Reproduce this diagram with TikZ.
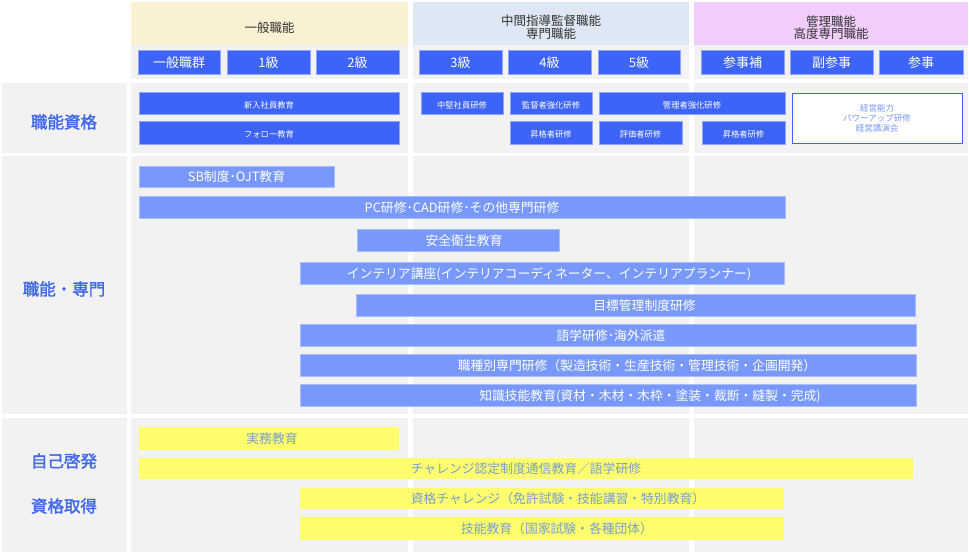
\documentclass[tikz,border=0pt]{standalone}
\usepackage{fontspec}
\setmainfont{Noto Sans CJK JP}
\newfontfamily\lblfont{Noto Sans CJK JP}[FakeBold=2]
\definecolor{cellgray}{HTML}{F2F2F2}
\definecolor{hdyellow}{HTML}{FAF0D2}
\definecolor{hdblue}{HTML}{DEE8F5}
\definecolor{hdpink}{HTML}{F0CDFA}
\definecolor{boxblue}{HTML}{3D63F7}
\definecolor{boxedge}{HTML}{8DA6FA}
\definecolor{barblue}{HTML}{7899FB}
\definecolor{baredge}{HTML}{A9BCFC}
\definecolor{ybarfill}{HTML}{FFFF6E}
\definecolor{ytext}{HTML}{7A9FCB}
\definecolor{lbltext}{HTML}{4169EB}
\definecolor{hdtext}{HTML}{333333}
\newcommand{\mybox}[7]{\node[#2, minimum width={#5pt-#3pt}, minimum height={#6pt-#4pt}, inner sep=0pt] (#1) at ({(#3+#5)/2},{(#4+#6)/2}) {#7};}
\newcommand{\offs}[1]{\hspace*{#1pt}}
\tikzset{
  vc/.style={text height=1.05em, text depth=0em},
  gbox/.style={vc, fill=boxblue, draw=boxedge, line width=0.6pt, text=white, font=\fontsize{13}{13}\selectfont},
  sbox/.style={vc, fill=boxblue, draw=boxedge, line width=0.6pt, text=white, font=\fontsize{8.3}{9}\selectfont},
  wbox/.style={fill=white, draw=boxblue, line width=0.9pt, text=barblue, align=center, font=\fontsize{8.5}{10}\selectfont},
  bar/.style={vc, fill=barblue, draw=baredge, line width=0.6pt, text=white, font=\fontsize{12.8}{13}\selectfont},
  ybar/.style={vc, fill=ybarfill, draw=none, text=ytext, font=\fontsize{12.8}{13}\selectfont},
  hdtxt/.style={text=hdtext, align=center, font=\fontsize{12.5}{12.5}\selectfont},
  lbl/.style={vc, text=lbltext, font=\fontsize{16.5}{17}\selectfont\lblfont}
}
\begin{document}
\begin{tikzpicture}[x=1pt, y=-1pt]
\useasboundingbox (0,0) rectangle (969,558);
\fill[white] (0,0) rectangle (969,558);
% header cells
\fill[hdyellow] (131,2) rectangle (408,45);
\fill[hdblue] (413,2) rectangle (689,45);
\fill[hdpink] (694,2) rectangle (968,45);
\fill[cellgray] (131,45) rectangle (408,79);
\fill[cellgray] (413,45) rectangle (689,79);
\fill[cellgray] (694,45) rectangle (968,79);
% row cells
\foreach \ya/\yb in {83/153, 156/414, 418/552} {
  \fill[cellgray] (2,\ya) rectangle (127,\yb);
  \fill[cellgray] (131,\ya) rectangle (408,\yb);
  \fill[cellgray] (413,\ya) rectangle (689,\yb);
  \fill[cellgray] (694,\ya) rectangle (968,\yb);
}
% header texts
\node[hdtxt] (h1) at (269.5,28) {一般職能};
\node[hdtxt] (h2) at (551,27.5) {中間指導監督職能\\専門職能};
\node[hdtxt] (h3) at (831,27.5) {管理職能\\高度専門職能};
% grade boxes
\mybox{g1}{gbox}{138}{50}{220}{74}{一般職群}
\mybox{g2}{gbox}{227}{50}{310}{74}{1級}
\mybox{g3}{gbox}{316}{50}{399}{74}{2級}
\mybox{g4}{gbox}{419}{50}{502}{74}{3級}
\mybox{g5}{gbox}{508}{50}{591}{74}{4級}
\mybox{g6}{gbox}{598}{50}{680}{74}{5級}
\mybox{g7}{gbox}{701}{50}{784}{74}{参事補}
\mybox{g8}{gbox}{790}{50}{873}{74}{副参事}
\mybox{g9}{gbox}{879}{50}{963}{74}{参事}
% left labels
\node[lbl] (l1) at (64,123) {職能資格};
\node[lbl] (l2) at (64,290) {職能・専門};
\node[lbl] (l3) at (64,462) {自己啓発};
\node[lbl] (l4) at (64,507) {資格取得};
% qualification row
\mybox{q1}{sbox}{139}{92}{399}{114}{新入社員教育}
\mybox{q2}{sbox}{139}{121}{399}{144}{フォロー教育}
\mybox{q3}{sbox}{421}{92}{503}{114}{中堅社員研修}
\mybox{q4}{sbox}{510}{92}{592}{114}{監督者強化研修}
\mybox{q5}{sbox}{510}{121}{592}{144}{昇格者研修}
\mybox{q6}{sbox}{599}{92}{785}{114}{管理者強化研修}
\mybox{q7}{sbox}{599}{121}{682}{144}{評価者研修}
\mybox{q8}{sbox}{702}{121}{785}{144}{昇格者研修}
\mybox{q9}{wbox}{792}{93}{962}{143}{経営能力\\パワーアップ研修\\経営講演会}
% professional bars
\mybox{b1}{bar}{139}{166}{334}{187}{SB制度･OJT教育}
\mybox{b2}{bar}{139}{196}{785}{218}{PC研修･CAD研修･その他専門研修}
\mybox{b3}{bar}{357}{229}{559}{251}{\offs{12}安全衛生教育}
\mybox{b4}{bar}{300}{262}{784}{284}{\offs{14}インテリア講座(インテリアコーディネーター、インテリアプランナー)}
\mybox{b5}{bar}{356}{294}{915}{316}{\offs{18}目標管理制度研修}
\mybox{b6}{bar}{300}{324}{916}{346}{\offs{6}語学研修･海外派遣}
\mybox{b7}{bar}{300}{354}{916}{376}{\offs{58}職種別専門研修（製造技術・生産技術・管理技術・企画開発）}
\mybox{b8}{bar}{300}{384}{916}{406}{\offs{84}知識技能教育(資材・木材・木枠・塗装・裁断・縫製・完成)}
% self development bars
\mybox{y1}{ybar}{139}{427}{399}{450}{\offs{6}実務教育}
\mybox{y2}{ybar}{139}{458}{913}{479}{チャレンジ認定制度通信教育／語学研修}
\mybox{y3}{ybar}{300}{488}{784}{509}{\offs{32}資格チャレンジ（免許試験・技能講習・特別教育）}
\mybox{y4}{ybar}{300}{517}{784}{540}{\offs{30}技能教育（国家試験・各種団体）}
\end{tikzpicture}
\end{document}
